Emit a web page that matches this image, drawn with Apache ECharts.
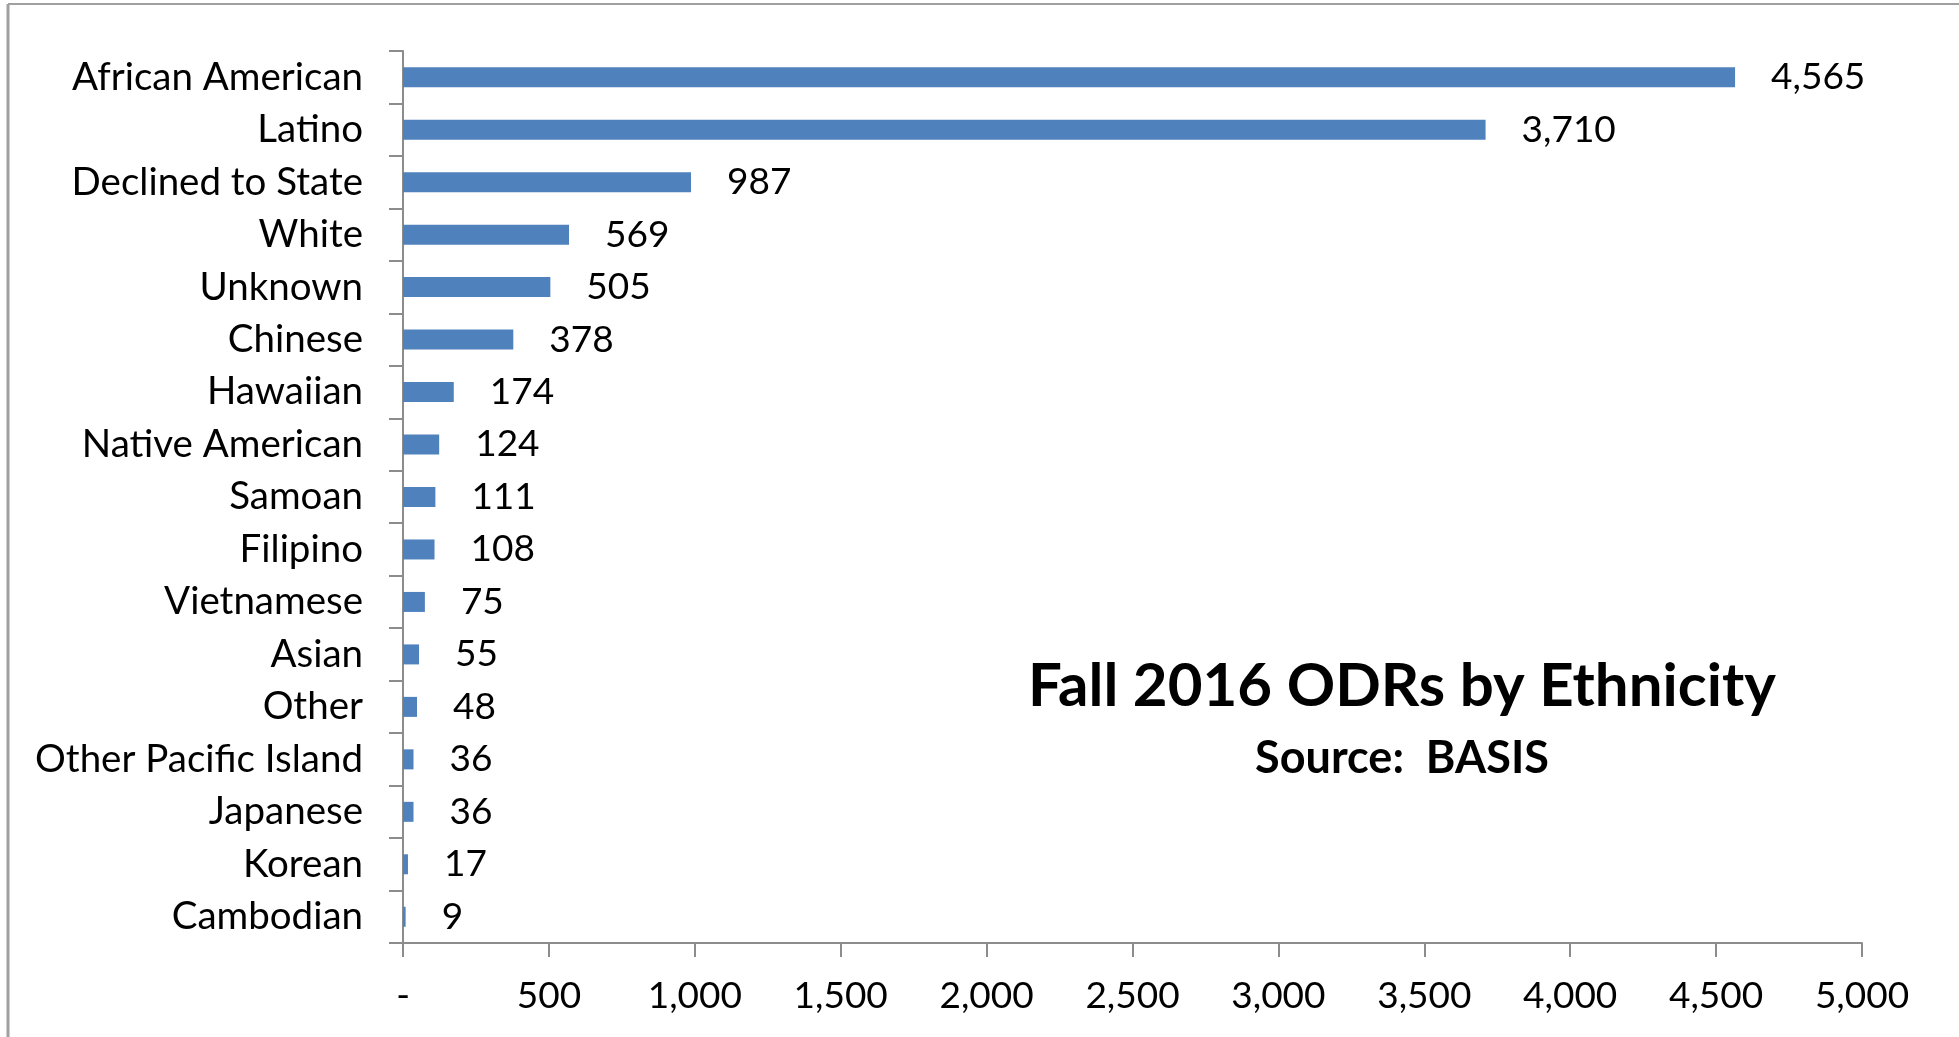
<!DOCTYPE html>
<html>
<head>
<meta charset="utf-8">
<script src="https://cdn.jsdelivr.net/npm/echarts@6/dist/echarts.min.js"></script>
<style>
html,body{margin:0;padding:0;background:#fff;}
#chart{width:1959px;height:1037px;}
</style>
</head>
<body>
<div id="chart"></div>
<script>
const categories = ["African American","Latino","Declined to State","White","Unknown","Chinese","Hawaiian","Native American","Samoan","Filipino","Vietnamese","Asian","Other","Other Pacific Island","Japanese","Korean","Cambodian"];
const values = [4565,3710,987,569,505,378,174,124,111,108,75,55,48,36,36,17,9];
const titleText = "Fall 2016 ODRs by Ethnicity";
const subtitleText = "Source:  BASIS";

const FONT = "Lato";
const fmt = v => v === 0 ? "-" : v.toLocaleString("en-US");

const chart = echarts.init(document.getElementById("chart"));
chart.setOption({
  animation: false,
  backgroundColor: "#fff",
  grid: { left: 403, right: 97, top: 51, bottom: 94, containLabel: false },
  xAxis: {
    type: "value", min: 0, max: 5000, interval: 500,
    axisLine: { show: true, lineStyle: { color: "#8c8c8c", width: 2 } },
    axisTick: { show: true, length: 14, lineStyle: { color: "#8c8c8c", width: 2 } },
    splitLine: { show: false },
    axisLabel: { formatter: fmt, fontFamily: FONT, fontSize: 37, color: "#000", margin: 35 }
  },
  yAxis: {
    type: "category", data: categories, inverse: true,
    axisLine: { show: true, lineStyle: { color: "#8c8c8c", width: 2 } },
    axisTick: { show: true, length: 14, alignWithLabel: false, lineStyle: { color: "#8c8c8c", width: 2 } },
    axisLabel: { fontFamily: FONT, fontSize: 38.5, color: "#000", margin: 40 }
  },
  series: [{
    type: "bar", data: values, barWidth: 20,
    itemStyle: { color: "#4F81BD" },
    label: { show: true, position: "right", distance: 36, formatter: p => fmt(p.value), fontFamily: FONT, fontSize: 37, color: "#000" }
  }],
  graphic: [
    { type: "line", shape: { x1: 8, y1: 4, x2: 1959, y2: 4 }, style: { stroke: "#a0a0a0", lineWidth: 2 } },
    { type: "line", shape: { x1: 8, y1: 4, x2: 8, y2: 1037 }, style: { stroke: "#a0a0a0", lineWidth: 3 } },
    { type: "text", x: 1402, y: 687, style: { text: titleText, textAlign: "center", textVerticalAlign: "middle", fontFamily: FONT, fontWeight: "bold", fontSize: 60, fill: "#000" } },
    { type: "text", x: 1402, y: 758, style: { text: subtitleText, textAlign: "center", textVerticalAlign: "middle", fontFamily: FONT, fontWeight: "bold", fontSize: 45, fill: "#000" } }
  ]
});
</script>
</body>
</html>
